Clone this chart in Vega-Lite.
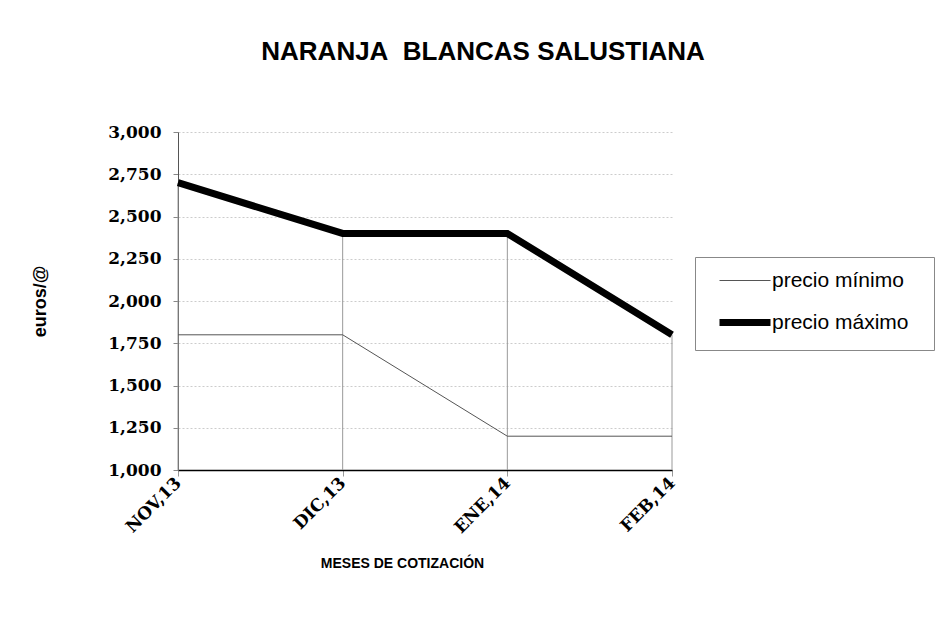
{
  "$schema": "https://vega.github.io/schema/vega-lite/v6.json",
  "autosize": "none",
  "width": 494,
  "height": 338,
  "padding": {"left": 178, "top": 132, "right": 267, "bottom": 165},
  "background": "white",
  "title": {
    "text": "NARANJA\u00a0\u00a0BLANCAS SALUSTIANA",
    "font": "Liberation Sans",
    "fontSize": 26,
    "fontWeight": "bold",
    "color": "black",
    "anchor": "middle",
    "frame": "group",
    "dx": 58,
    "offset": 58
  },
  "config": {
    "view": {"stroke": null}
  },
  "data": {
    "values": [
      {"mes": "NOV,13", "serie": "precio mínimo", "precio": 1.8},
      {"mes": "DIC,13", "serie": "precio mínimo", "precio": 1.8},
      {"mes": "ENE,14", "serie": "precio mínimo", "precio": 1.2},
      {"mes": "FEB,14", "serie": "precio mínimo", "precio": 1.2},
      {"mes": "NOV,13", "serie": "precio máximo", "precio": 2.7},
      {"mes": "DIC,13", "serie": "precio máximo", "precio": 2.4},
      {"mes": "ENE,14", "serie": "precio máximo", "precio": 2.4},
      {"mes": "FEB,14", "serie": "precio máximo", "precio": 1.8}
    ]
  },
  "layer": [
    {
      "transform": [{"filter": "datum.serie === 'precio máximo'"}],
      "mark": {"type": "rule", "color": "#999999", "strokeWidth": 1},
      "encoding": {
        "x": {"field": "mes", "type": "ordinal", "sort": null, "scale": {"type": "point", "padding": 0}},
        "y": {"field": "precio", "type": "quantitative", "scale": {"domain": [1, 3], "nice": false, "zero": false}},
        "y2": {"datum": 1}
      }
    },
    {
      "mark": {"type": "line"},
      "encoding": {
        "x": {
          "field": "mes",
          "type": "ordinal",
          "sort": null,
          "scale": {"type": "point", "padding": 0},
          "axis": {
            "title": "MESES DE COTIZACIÓN",
            "titleFont": "Liberation Sans",
            "titleFontSize": 14,
            "titleFontWeight": "bold",
            "titleColor": "black",
            "titleX": 224,
            "titleY": 93,
            "titleAnchor": "middle",
            "titleBaseline": "middle",
            "labelAngle": -45,
            "labelFont": "DejaVu Serif",
            "labelFontSize": 17,
            "labelFontWeight": "bold",
            "labelColor": "black",
            "labelPadding": 4,
            "domainColor": "black",
            "domainWidth": 1.5,
            "tickColor": "#999999",
            "tickSize": 6,
            "grid": false
          }
        },
        "y": {
          "field": "precio",
          "type": "quantitative",
          "scale": {"domain": [1, 3], "nice": false, "zero": false},
          "axis": {
            "title": "euros/@",
            "titleFont": "Liberation Sans",
            "titleFontSize": 18,
            "titleFontWeight": "bold",
            "titleColor": "black",
            "titleAngle": -90,
            "titleX": -138,
            "titleY": 169,
            "titleAnchor": "middle",
            "titleBaseline": "middle",
            "values": [1, 1.25, 1.5, 1.75, 2, 2.25, 2.5, 2.75, 3],
            "labelExpr": "replace(format(datum.value, '.3f'), '.', ',')",
            "labelFont": "DejaVu Serif",
            "labelFontSize": 17,
            "labelFontWeight": "bold",
            "labelColor": "black",
            "labelPadding": 12,
            "domainColor": "#555555",
            "tickColor": "#888888",
            "tickSize": 5,
            "grid": true,
            "gridColor": "#cccccc",
            "gridDash": [2, 2],
            "gridWidth": 1
          }
        },
        "color": {
          "field": "serie",
          "type": "nominal",
          "scale": {"domain": ["precio mínimo", "precio máximo"], "range": ["#555555", "black"]},
          "legend": {
            "title": "\u00a0",
            "titleOrient": "right",
            "titleFontSize": 8,
            "titlePadding": 12,
            "orient": "none",
            "legendX": 517,
            "legendY": 125,
            "strokeColor": "#888888",
            "fillColor": "white",
            "padding": 13,
            "symbolType": "M-4.5,0H4",
            "symbolSize": 144,
            "symbolOffset": 28,
            "symbolStrokeCap": "round",
            "labelFont": "Liberation Sans",
            "labelFontSize": 21,
            "labelColor": "black",
            "labelOffset": 15,
            "rowPadding": 17,
            "labelLimit": 300
          }
        },
        "strokeWidth": {
          "field": "serie",
          "type": "nominal",
          "scale": {"domain": ["precio mínimo", "precio máximo"], "range": [1, 7]},
          "legend": null
        }
      }
    }
  ]
}
